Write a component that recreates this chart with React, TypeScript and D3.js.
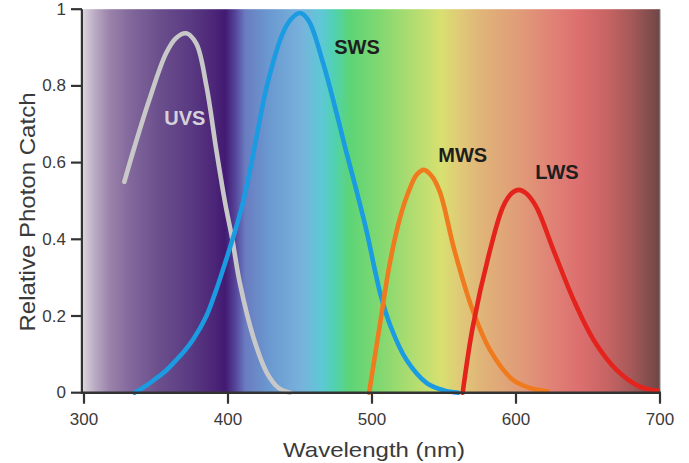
import React from "react";
import * as d3 from "d3";

const W = 689;
const H = 463;

// Wavelength (nm), relative photon catch
const uvsWl = [328, 335, 345, 357, 364, 371, 378, 385, 392, 398, 403, 408, 418, 427, 435, 443];
const uvsVal = [0.55, 0.64, 0.76, 0.885, 0.925, 0.937, 0.91, 0.8, 0.63, 0.495, 0.4, 0.29, 0.14, 0.052, 0.013, 0.0];

const swsWl = [335, 343, 350, 357, 364, 370, 376, 385, 392, 399, 404, 410, 415, 421, 427, 438, 444, 450, 456, 466, 476, 482, 489, 496, 506, 513, 524, 538, 550, 560];
const swsVal = [0.0, 0.018, 0.037, 0.058, 0.085, 0.11, 0.14, 0.2, 0.27, 0.35, 0.41, 0.49, 0.575, 0.69, 0.8, 0.937, 0.975, 0.99, 0.97, 0.86, 0.72, 0.63, 0.53, 0.425, 0.255, 0.172, 0.085, 0.025, 0.006, 0.0];

const mwsWl = [498, 506, 512, 519, 526, 531, 536, 541, 547, 557, 569, 582, 598, 610, 622];
const mwsVal = [0.0, 0.19, 0.33, 0.45, 0.53, 0.568, 0.581, 0.567, 0.525, 0.375, 0.225, 0.111, 0.033, 0.012, 0.004];

const lwsWl = [563, 570, 582, 591, 597, 602, 607, 614, 626, 640, 654, 670, 686, 700];
const lwsVal = [0.0, 0.172, 0.372, 0.485, 0.52, 0.529, 0.52, 0.485, 0.372, 0.242, 0.137, 0.059, 0.016, 0.004];

const seriesNames = ["UVS", "SWS", "MWS", "LWS"];
const seriesColors = ["#c8c8c8", "#1a9be2", "#f07a1e", "#e5231d"];
const labelWl = [370, 489.6, 563, 628.5];
const labelVal = [0.716, 0.902, 0.62, 0.575];
const labelColors = ["#d6d2da", "#1e1e1e", "#1e1e1e", "#1e1e1e"];

const xTicks = [300, 400, 500, 600, 700];
const yTicks = [0, 0.2, 0.4, 0.6, 0.8, 1];
const yTickLabels = ["0", "0.2", "0.4", "0.6", "0.8", "1"];

// background spectrum stops: wavelength, colour
const specWl = [300, 308, 318, 332, 353, 374, 390, 398, 405, 412, 428, 451, 465, 474, 484, 505, 526, 548, 562, 576, 604, 625, 645, 663, 681, 700];
const specCol = ["#d8d0da", "#b8a8c2", "#9a82aa", "#82689c", "#6a4e8c", "#5a3a82", "#4c2678", "#421a72", "#55449a", "#6a7cc0", "#6a98d0", "#78b2dc", "#5ec8d6", "#50d2b0", "#5cd478", "#80d870", "#acdc70", "#d8e070", "#e0c878", "#e0b478", "#e09a78", "#e08276", "#dc6e6e", "#c86464", "#a45858", "#6e4646"];

export default function App() {
  const x = d3.scaleLinear().domain([300, 700]).range([84, 660]);
  const y = d3.scaleLinear().domain([0, 1]).range([392.7, 9.2]);

  const series = [
    uvsWl.map((w, i) => [w, uvsVal[i]] as [number, number]),
    swsWl.map((w, i) => [w, swsVal[i]] as [number, number]),
    mwsWl.map((w, i) => [w, mwsVal[i]] as [number, number]),
    lwsWl.map((w, i) => [w, lwsVal[i]] as [number, number]),
  ];

  const line = d3
    .line<[number, number]>()
    .x((d) => x(d[0]))
    .y((d) => y(d[1]))
    .curve(d3.curveCatmullRom.alpha(0.5));

  const font = "'Liberation Sans', Arial, Helvetica, sans-serif";
  const x0 = x(300);
  const x1 = x(700);
  const yTop = y(1);
  const yBot = y(0);

  return (
    <svg
      width={W}
      height={H}
      style={{ position: "absolute", left: 0, top: 0, background: "#fff" }}
      fontFamily={font}
    >
      <defs>
        <linearGradient id="spec" x1={x0} x2={x1} y1={0} y2={0} gradientUnits="userSpaceOnUse">
          {specWl.map((w, i) => (
            <stop key={i} offset={(w - 300) / 400} stopColor={specCol[i]} />
          ))}
        </linearGradient>
        <clipPath id="plot">
          <rect x={x0} y={yTop - 4} width={x1 - x0} height={yBot - yTop + 8} />
        </clipPath>
      </defs>

      <rect x={x0} y={yTop} width={x1 - x0} height={yBot - yTop} fill="url(#spec)" />
      <line x1={x1} x2={x1} y1={yTop} y2={yBot} stroke="#8a8a8a" strokeWidth={1} />

      <g clipPath="url(#plot)">
        {series.map((s, i) => (
          <path
            key={seriesNames[i]}
            d={line(s) || ""}
            fill="none"
            stroke={seriesColors[i]}
            strokeWidth={4.6}
            strokeLinecap="round"
            strokeLinejoin="round"
          />
        ))}
      </g>

      {seriesNames.map((n, i) => (
        <text
          key={n}
          x={x(labelWl[i])}
          y={y(labelVal[i])}
          textAnchor="middle"
          dominantBaseline="central"
          fontWeight="bold"
          fontSize={20}
          fill={labelColors[i]}
        >
          {n}
        </text>
      ))}

      {/* axes */}
      <line x1={82} x2={82} y1={yTop} y2={yBot + 1} stroke="#333" strokeWidth={2.4} />
      <line x1={81} x2={x1 + 1} y1={yBot} y2={yBot} stroke="#333" strokeWidth={2.4} />

      {yTicks.map((t, i) => (
        <g key={"y" + t}>
          <line x1={71} x2={82} y1={y(t)} y2={y(t)} stroke="#333" strokeWidth={2.2} />
          <text
            x={66}
            y={y(t)}
            textAnchor="end"
            dominantBaseline="central"
            fontSize={17}
            fill="#3a3a3a"
          >
            {yTickLabels[i]}
          </text>
        </g>
      ))}

      {xTicks.map((t) => (
        <g key={"x" + t}>
          <line x1={x(t)} x2={x(t)} y1={yBot} y2={yBot + 11} stroke="#333" strokeWidth={2.2} />
          <text x={x(t)} y={425} textAnchor="middle" fontSize={17} fill="#3a3a3a">
            {t}
          </text>
        </g>
      ))}

      <text
        x={374}
        y={457}
        textAnchor="middle"
        fontSize={21}
        fill="#3a3a3a"
        textLength={182}
        lengthAdjust="spacingAndGlyphs"
      >
        Wavelength (nm)
      </text>
      <text
        transform="translate(35,212) rotate(-90)"
        textAnchor="middle"
        fontSize={22}
        fill="#3a3a3a"
        textLength={239}
        lengthAdjust="spacingAndGlyphs"
      >
        Relative Photon Catch
      </text>
    </svg>
  );
}
